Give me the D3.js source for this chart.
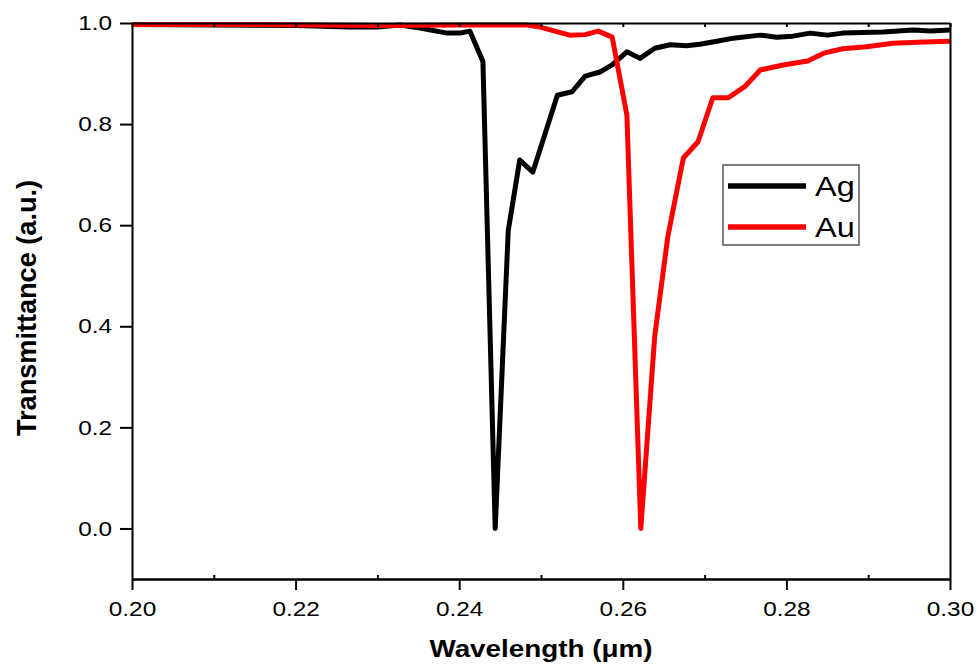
<!DOCTYPE html>
<html>
<head>
<meta charset="utf-8">
<script src="https://cdn.jsdelivr.net/npm/d3@7"></script>
<style>
  body { margin: 0; background: #fff; }
  svg { display: block; font-family: Arial, "Liberation Sans", sans-serif; }
</style>
</head>
<body>
<svg id="chart"></svg>
<script>
// Ag series (wavelength in um, transmittance)
const agWavelength = [0.200, 0.210, 0.220, 0.2265, 0.2300, 0.2328, 0.2352, 0.2385, 0.2401, 0.2413, 0.2429,
  0.2444, 0.2460, 0.2474, 0.2490, 0.2505, 0.2520, 0.2538, 0.2554, 0.2572, 0.2587, 0.2605, 0.2621,
  0.2639, 0.2658, 0.2678, 0.2694, 0.2715, 0.2735, 0.2768, 0.2788, 0.2808, 0.2829, 0.2850, 0.2869,
  0.2918, 0.2955, 0.2976, 0.3000];
const agTransmittance = [0.997, 0.996, 0.995, 0.992, 0.992, 0.996, 0.990, 0.980, 0.980, 0.984, 0.924,
  0.000, 0.590, 0.729, 0.705, 0.781, 0.857, 0.864, 0.895, 0.903, 0.917, 0.943, 0.930,
  0.950, 0.957, 0.955, 0.958, 0.964, 0.970, 0.976, 0.972, 0.974, 0.980, 0.976, 0.980,
  0.982, 0.986, 0.984, 0.986];

// Au series
const auWavelength = [0.200, 0.215, 0.230, 0.2400, 0.2483, 0.2499, 0.2517, 0.2535, 0.2554, 0.2570,
  0.2587, 0.2605, 0.2622, 0.2639, 0.2655, 0.2674, 0.2692, 0.2710, 0.2729, 0.2749, 0.2768,
  0.2796, 0.2826, 0.2847, 0.2869, 0.2898, 0.2930, 0.2960, 0.2979, 0.3000];
const auTransmittance = [0.997, 0.997, 0.995, 0.996, 0.996, 0.992, 0.984, 0.976, 0.977, 0.984,
  0.972, 0.818, 0.000, 0.380, 0.577, 0.733, 0.765, 0.852, 0.852, 0.874, 0.907,
  0.917, 0.925, 0.941, 0.949, 0.953, 0.960, 0.962, 0.963, 0.964];

// Tick values
const xTicks = [0.20, 0.22, 0.24, 0.26, 0.28, 0.30];
const xMinorTicks = [0.21, 0.23, 0.25, 0.27, 0.29];
const yTicks = [0.0, 0.2, 0.4, 0.6, 0.8, 1.0];

const seriesNames = ["Ag", "Au"];
const seriesColors = ["#000000", "#ff0000"];

const width = 980;
const height = 669;
const margin = { top: 23, right: 30, bottom: 90, left: 132 };
const stretch = 1.16; // text in the picture is a bit wider than tall

const svg = d3.select("#chart")
  .attr("width", width)
  .attr("height", height);

// Scales
const xScale = d3.scaleLinear()
  .domain([0.20, 0.30])
  .range([margin.left, width - margin.right]);

const yScale = d3.scaleLinear()
  .domain([-0.1, 1.0])
  .range([height - margin.bottom, margin.top]);

// Lines
const line = d3.line()
  .x((d) => xScale(d[0]))
  .y((d) => yScale(d[1]));

const agData = agWavelength.map((w, i) => [w, agTransmittance[i]]);
const auData = auWavelength.map((w, i) => [w, auTransmittance[i]]);

svg.append("path")
  .datum(agData)
  .attr("fill", "none")
  .attr("stroke", seriesColors[0])
  .attr("stroke-width", 5)
  .attr("stroke-linejoin", "round")
  .attr("d", line);

svg.append("path")
  .datum(auData)
  .attr("fill", "none")
  .attr("stroke", seriesColors[1])
  .attr("stroke-width", 5)
  .attr("stroke-linejoin", "round")
  .attr("d", line);

// Axes
const bottomY = height - margin.bottom;

const xAxis = svg.append("g")
  .attr("transform", `translate(0,${bottomY})`)
  .call(d3.axisBottom(xScale).tickValues(xTicks).tickFormat(d3.format(".2f")).tickSize(11).tickPadding(11).tickSizeOuter(0));

xAxis.selectAll("text")
  .attr("transform", `scale(${stretch},1)`);

// minor ticks on the bottom, pointing inward
svg.append("g")
  .attr("transform", `translate(0,${bottomY})`)
  .call(d3.axisBottom(xScale).tickValues(xMinorTicks).tickFormat("").tickSize(-4).tickSizeOuter(0));

const yAxis = svg.append("g")
  .attr("transform", `translate(${margin.left},0)`)
  .call(d3.axisLeft(yScale).tickValues(yTicks).tickFormat(d3.format(".1f")).tickSize(12).tickSizeOuter(0));

yAxis.selectAll("text")
  .attr("x", -20 / stretch)
  .attr("transform", `scale(${stretch},1)`);

// top and right frame
svg.append("g")
  .attr("transform", `translate(0,${margin.top})`)
  .call(d3.axisTop(xScale).tickValues(d3.merge([xTicks, xMinorTicks])).tickFormat("").tickSize(-4).tickSizeOuter(0));

svg.append("g")
  .attr("transform", `translate(${width - margin.right},0)`)
  .call(d3.axisRight(yScale).tickValues([]).tickSizeOuter(0));

svg.selectAll(".domain").attr("stroke-width", 2);
svg.selectAll(".tick line").attr("stroke-width", 2);
svg.selectAll(".tick text").attr("font-size", 21).attr("fill", "#000");

// Axis titles
svg.append("text")
  .attr("transform", `translate(541,657) scale(${stretch},1)`)
  .attr("text-anchor", "middle")
  .attr("font-size", 24)
  .attr("font-weight", "bold")
  .text("Wavelength (\u03bcm)");

svg.append("text")
  .attr("transform", "translate(36,308) rotate(-90) scale(1.13,1.18)")
  .attr("text-anchor", "middle")
  .attr("font-size", 24)
  .attr("font-weight", "bold")
  .text("Transmittance (a.u.)");

// Legend
const legend = svg.append("g")
  .attr("transform", "translate(723,165)");

legend.append("rect")
  .attr("width", 136)
  .attr("height", 80)
  .attr("fill", "#fff")
  .attr("stroke", "#555")
  .attr("stroke-width", 1.5);

seriesNames.forEach((name, i) => {
  const rowY = 21 + i * 41;
  legend.append("line")
    .attr("x1", 5)
    .attr("x2", 83)
    .attr("y1", rowY)
    .attr("y2", rowY)
    .attr("stroke", seriesColors[i])
    .attr("stroke-width", 5.5);
  legend.append("text")
    .attr("transform", `translate(92,${rowY + 10}) scale(${stretch},1)`)
    .attr("font-size", 28)
    .text(name);
});
</script>
</body>
</html>
